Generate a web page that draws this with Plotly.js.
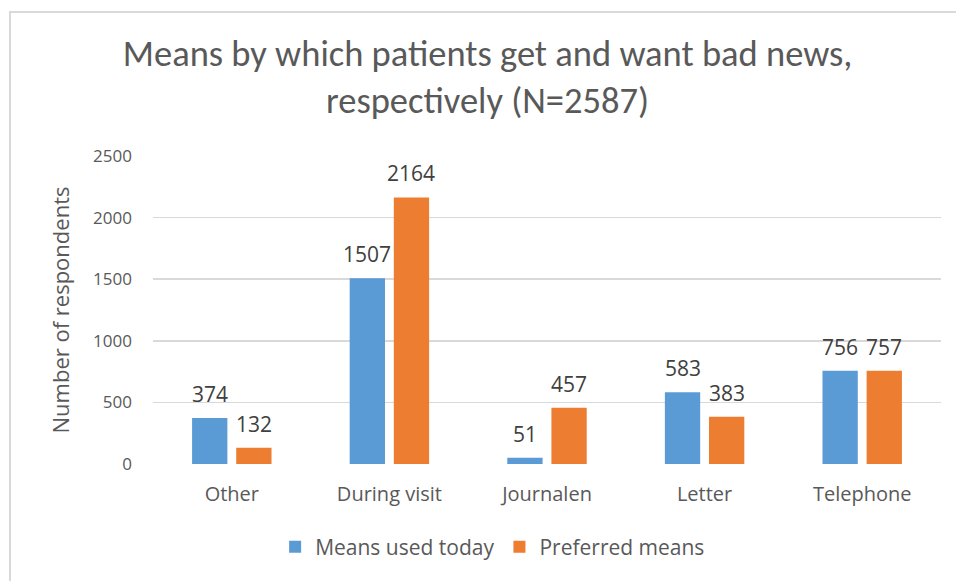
<!DOCTYPE html>
<html>
<head>
<meta charset="utf-8">
<script src="https://cdn.plot.ly/plotly-3.0.1.min.js"></script>
<style>
html,body{margin:0;padding:0;background:#fff;overflow:hidden;}
#frame{position:absolute;left:9px;top:11px;width:1200px;height:800px;border-left:2px solid #d9d9d9;border-top:2px solid #d9d9d9;}
#chart{position:absolute;left:0;top:0;width:956px;height:581px;}
</style>
</head>
<body>
<div id="frame"></div>
<div id="chart"></div>
<script>
const categories = ["Other", "During visit", "Journalen", "Letter", "Telephone"];
const usedToday = [374, 1507, 51, 583, 756];
const preferred = [132, 2164, 457, 383, 757];
const seriesNames = ["Means used today", "Preferred means"];
const titleText = "Means by which patients get and want bad news,<br>respectively (N=2587)";
const yTitle = "Number of respondents";
const yTicks = [0, 500, 1000, 1500, 2000, 2500];

const sans = "Open Sans, Noto Sans, sans-serif";
const labelFont = {family: sans, size: 21, color: "#404040"};

const traces = [
  {type: "bar", x: categories, y: usedToday, name: seriesNames[0],
   marker: {color: "#5b9bd5"}, hoverinfo: "skip"},
  {type: "bar", x: categories, y: preferred, name: seriesNames[1],
   marker: {color: "#ed7d31"}, hoverinfo: "skip"}
];

// data labels, positioned through the axes from the same arrays
const annotations = [];
[usedToday, preferred].forEach((vals, si) => {
  vals.forEach((v, i) => {
    annotations.push({x: categories[i], y: v, xref: "x", yref: "y",
      text: String(v), showarrow: false, xanchor: "center", yanchor: "bottom",
      xshift: si === 0 ? -22 : 22, yshift: 8, font: labelFont});
  });
});

const layout = {
  width: 956, height: 581,
  paper_bgcolor: "rgba(0,0,0,0)", plot_bgcolor: "rgba(0,0,0,0)",
  margin: {l: 153, r: 15, t: 156, b: 117, pad: 0},
  barmode: "group", bargap: 0.44, bargroupgap: 0.2,
  title: {text: titleText, xref: "container", x: 0.51, xanchor: "center",
          yref: "container", y: 0.887, yanchor: "top",
          font: {family: "Carlito, Open Sans, sans-serif", size: 36.5, color: "#595959"}},
  xaxis: {tickfont: {family: sans, size: 20, color: "#595959"},
          showgrid: false, zeroline: false, showline: false, ticks: "", ticklabelstandoff: 16},
  yaxis: {range: [0, 2500], tickvals: yTicks, ticktext: yTicks.map(String),
          tickfont: {family: sans, size: 17, color: "#595959"},
          gridcolor: "#d9d9d9", gridwidth: 1.5, zeroline: false, showline: false, ticks: "",
          ticklabelstandoff: 20,
          title: {text: yTitle, standoff: 17,
                  font: {family: sans, size: 22, color: "#595959"}}},
  annotations: annotations,
  showlegend: true,
  legend: {orientation: "h", x: 0.431, xanchor: "center", y: -0.27, yanchor: "middle",
           font: {family: sans, size: 21, color: "#595959"},
           itemwidth: 30, traceorder: "normal"},
  font: {family: sans, color: "#595959"}
};

Plotly.newPlot("chart", traces, layout, {displayModeBar: false, staticPlot: true});
</script>
</body>
</html>
